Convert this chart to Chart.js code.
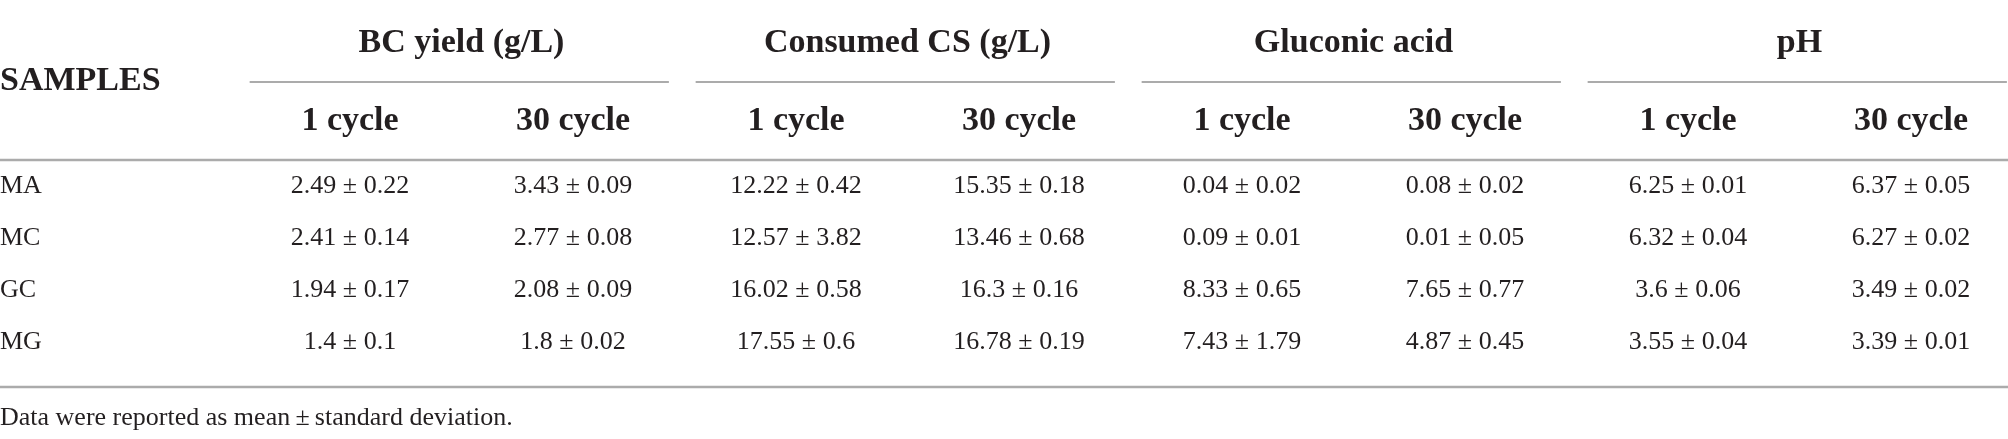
<!DOCTYPE html>
<html>
<head>
<meta charset="utf-8">
<script src="https://cdn.jsdelivr.net/npm/chart.js@4.4.1/dist/chart.umd.min.js"></script>
<style>
  html, body { margin: 0; padding: 0; background: #fff; }
  #wrap { width: 2008px; height: 439px; }
</style>
</head>
<body>
<div id="wrap"><canvas id="table-chart" width="2008" height="439"></canvas></div>
<script>
// Table data
const samples = ['MA', 'MC', 'GC', 'MG'];
const groups = ['BC yield (g/L)', 'Consumed CS (g/L)', 'Gluconic acid', 'pH'];
const cycles = ['1 cycle', '30 cycle'];

const bcYield1 = [2.49, 2.41, 1.94, 1.4];
const bcYield1Sd = [0.22, 0.14, 0.17, 0.1];
const bcYield30 = [3.43, 2.77, 2.08, 1.8];
const bcYield30Sd = [0.09, 0.08, 0.09, 0.02];
const consumedCs1 = [12.22, 12.57, 16.02, 17.55];
const consumedCs1Sd = [0.42, 3.82, 0.58, 0.6];
const consumedCs30 = [15.35, 13.46, 16.3, 16.78];
const consumedCs30Sd = [0.18, 0.68, 0.16, 0.19];
const gluconic1 = [0.04, 0.09, 8.33, 7.43];
const gluconic1Sd = [0.02, 0.01, 0.65, 1.79];
const gluconic30 = [0.08, 0.01, 7.65, 4.87];
const gluconic30Sd = [0.02, 0.05, 0.77, 0.45];
const ph1 = [6.25, 6.32, 3.6, 3.55];
const ph1Sd = [0.01, 0.04, 0.06, 0.04];
const ph30 = [6.37, 6.27, 3.49, 3.39];
const ph30Sd = [0.05, 0.02, 0.02, 0.01];

const footnote = 'Data were reported as mean\u2009\u00b1\u2009standard deviation.';

// one column per group/cycle pair
const columns = [
    { key: 'bc-1', mean: bcYield1, sd: bcYield1Sd },
    { key: 'bc-30', mean: bcYield30, sd: bcYield30Sd },
    { key: 'cs-1', mean: consumedCs1, sd: consumedCs1Sd },
    { key: 'cs-30', mean: consumedCs30, sd: consumedCs30Sd },
    { key: 'ga-1', mean: gluconic1, sd: gluconic1Sd },
    { key: 'ga-30', mean: gluconic30, sd: gluconic30Sd },
    { key: 'ph-1', mean: ph1, sd: ph1Sd },
    { key: 'ph-30', mean: ph30, sd: ph30Sd }
];

const SERIF = '"Liberation Serif", "DejaVu Serif", serif';
const TEXT = '#231f20';
const RULE = '#ababab';

const datasets = columns.map(col => ({
    label: col.key,
    data: samples.map((s, i) => ({ x: col.key, y: s, text: `${col.mean[i]} \u00b1 ${col.sd[i]}` })),
    pointRadius: 0,
    pointHoverRadius: 0,
    showLine: false
}));

// draws the table text and rules over the (invisible) points
const tablePlugin = {
    id: 'tablePlugin',
    afterDatasetsDraw(chart) {
        const { ctx } = chart;
        const xs = chart.scales.x;
        const ys = chart.scales.y;
        const W = chart.width;
        const step = xs.getPixelForValue(1) - xs.getPixelForValue(0);

        ctx.save();
        ctx.fillStyle = TEXT;
        ctx.textBaseline = 'middle';

        // group headers + underlines + cycle sub headers
        groups.forEach((g, gi) => {
            const xa = xs.getPixelForValue(gi * 2);
            const xb = xs.getPixelForValue(gi * 2 + 1);
            ctx.font = `bold 34px ${SERIF}`;
            ctx.textAlign = 'center';
            ctx.fillText(g, (xa + xb) / 2, 43);

            ctx.strokeStyle = RULE;
            ctx.lineWidth = 2;
            ctx.beginPath();
            ctx.moveTo(xa - step * 0.45, 82);
            ctx.lineTo(Math.min(xb + step * 0.43, W), 82);
            ctx.stroke();

            cycles.forEach((c, ci) => {
                ctx.fillText(c, ci === 0 ? xa : xb, 121);
            });
        });

        ctx.textAlign = 'left';
        ctx.fillText('SAMPLES', 0, 81);

        // header bottom rule and table bottom rule
        ctx.lineWidth = 2.5;
        [160, 387].forEach(y => {
            ctx.beginPath();
            ctx.moveTo(0, y);
            ctx.lineTo(W, y);
            ctx.stroke();
        });

        // row labels
        ctx.font = `26px ${SERIF}`;
        samples.forEach((s, i) => {
            ctx.fillText(s, 0, ys.getPixelForValue(i));
        });

        // cells
        ctx.textAlign = 'center';
        chart.data.datasets.forEach((ds, di) => {
            chart.getDatasetMeta(di).data.forEach((pt, i) => {
                ctx.fillText(ds.data[i].text, pt.x, pt.y);
            });
        });

        // footnote
        ctx.textAlign = 'left';
        ctx.fillText(footnote, 0, 418);
        ctx.restore();
    }
};

new Chart(document.getElementById('table-chart'), {
    type: 'scatter',
    data: { datasets },
    options: {
        responsive: false,
        devicePixelRatio: 1,
        animation: false,
        layout: { padding: { left: 350, right: 97, top: 186, bottom: 97 } },
        plugins: { legend: { display: false }, tooltip: { enabled: false } },
        scales: {
            x: { type: 'category', labels: columns.map(c => c.key), offset: false, display: false },
            y: { type: 'category', labels: samples, offset: false, display: false }
        }
    },
    plugins: [tablePlugin]
});
</script>
</body>
</html>
